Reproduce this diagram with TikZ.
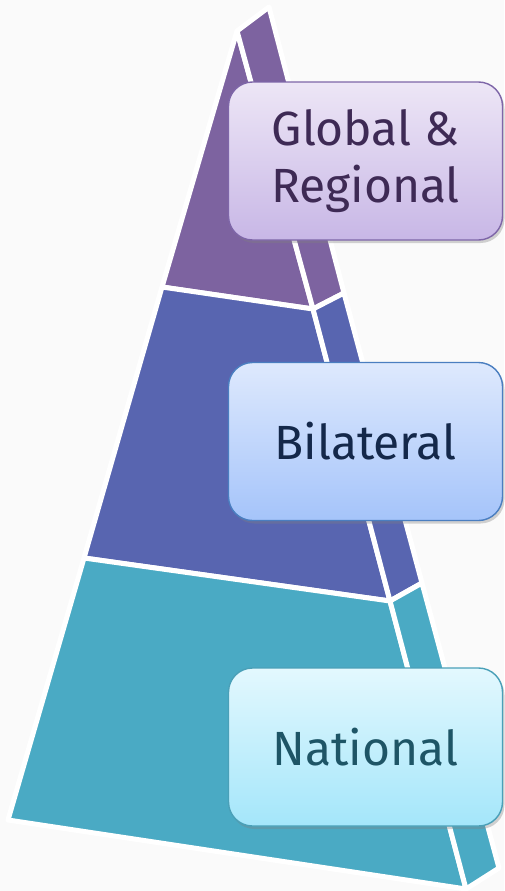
\documentclass[tikz,border=0pt]{standalone}
\usepackage{fontspec}
\setmainfont{Fira Sans}
\usetikzlibrary{shadows}
\definecolor{TierPurple}{RGB}{125,99,160}
\definecolor{TierBlue}{RGB}{88,101,176}
\definecolor{TierTeal}{RGB}{74,170,196}
\definecolor{PaperGray}{RGB}{250,250,250}

\begin{document}
\begin{tikzpicture}[x=1pt, y=-1pt,
  face/.style={draw=white, line width=5pt, line join=round},
  tierbox/.style={rounded corners=24pt, line width=1.4pt, inner sep=0pt,
    minimum width=274pt, minimum height=158pt, align=center,
    font=\fontsize{48}{57}\selectfont,
    drop shadow={shadow xshift=2pt, shadow yshift=-3pt, opacity=0.35}}]
  % Page
  \fill[PaperGray] (0,0) rectangle (504,891);
  \useasboundingbox (0,0) rectangle (504,891);

  % Corners of the pyramid (front apex, side top, tier edges)
  \coordinate (apex) at (237,31);
  \coordinate (sidetop) at (269,7);
  \coordinate (L1) at (162,287);
  \coordinate (M1) at (313,309);
  \coordinate (R1) at (344,293);
  \coordinate (L2) at (84,558);
  \coordinate (M2) at (390,601);
  \coordinate (R2) at (422,583);
  \coordinate (L3) at (8,820);
  \coordinate (M3) at (466,889);
  \coordinate (R3) at (499,868);

  % Front faces
  \filldraw[face, fill=TierPurple] (apex) -- (L1) -- (M1) -- cycle;
  \filldraw[face, fill=TierBlue] (L1) -- (L2) -- (M2) -- (M1) -- cycle;
  \filldraw[face, fill=TierTeal] (L2) -- (L3) -- (M3) -- (M2) -- cycle;

  % Side faces
  \filldraw[face, fill=TierPurple] (apex) -- (sidetop) -- (R1) -- (M1) -- cycle;
  \filldraw[face, fill=TierBlue] (M1) -- (R1) -- (R2) -- (M2) -- cycle;
  \filldraw[face, fill=TierTeal] (M2) -- (R2) -- (R3) -- (M3) -- cycle;

  % Tier labels
  \node[tierbox, draw={rgb,255:red,126;green,102;blue,168},
    top color={rgb,255:red,237;green,230;blue,246},
    bottom color={rgb,255:red,200;green,183;blue,230},
    text={rgb,255:red,62;green,42;blue,85}] (globalbox) at (365.5,161) {Global \&\\Regional};
  \node[tierbox, draw={rgb,255:red,74;green,126;blue,192},
    top color={rgb,255:red,222;green,233;blue,253},
    bottom color={rgb,255:red,165;green,196;blue,250},
    text={rgb,255:red,20;green,40;blue,74}] (bilateralbox) at (365.5,441.5) {Bilateral};
  \node[tierbox, draw={rgb,255:red,74;green,160;blue,184},
    top color={rgb,255:red,227;green,248;blue,254},
    bottom color={rgb,255:red,164;green,230;blue,250},
    text={rgb,255:red,30;green,85;blue,102}] (nationalbox) at (365.5,747) {National};
\end{tikzpicture}
\end{document}
